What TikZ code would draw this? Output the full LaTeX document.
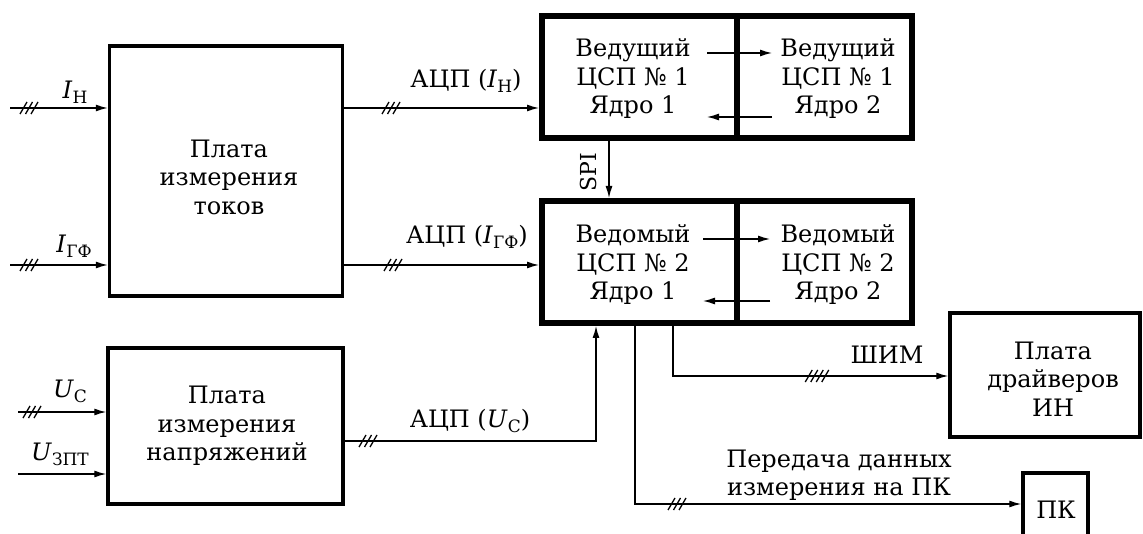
\documentclass[tikz,border=0pt]{standalone}
\usepackage{fontspec}
\setmainfont{DejaVu Serif}
\usetikzlibrary{arrows.meta}
\newcommand\sbs[1]{\raisebox{-0.4ex}{\fontsize{17}{17}\selectfont #1}}
\begin{document}
\begin{tikzpicture}[x=1pt,y=-1pt,
  txt/.style={font=\fontsize{24}{28.5}\selectfont, align=center, inner sep=0pt},
  blk/.style={draw, line width=3.5pt, inner sep=0pt},
  dsp/.style={draw, line width=6pt, inner sep=0pt, minimum height=122},
  con/.style={line width=1.3pt},
  arr/.style={con, -{Latex[length=12pt,width=7pt]}},
  pics/sl/.style={code={\foreach \k in {1,...,#1}{\draw[line width=1.3pt] ({(\k-1-(#1-1)/2)*5.5-3.5},6) -- ({(\k-1-(#1-1)/2)*5.5+3.5},-6);}}}]
\path[fill=white,use as bounding box] (0,0) rectangle (1143,534);

% blocks
\node[blk, minimum width=233, minimum height=250] (tok) at (226,171) {};
\node[txt] (tokt) at (229,177) {Плата\\измерения\\токов};
\node[blk, minimum width=235, minimum height=156] (nap) at (225.5,426) {};
\node[txt] (napt) at (227,426) {Плата\\измерения\\напряжений};

\node[dsp, minimum width=195] (m1) at (639.5,77) {};
\node[dsp, minimum width=175] (m2) at (824.5,77) {};
\node[dsp, minimum width=195] (s1) at (639.5,262) {};
\node[dsp, minimum width=175] (s2) at (824.5,262) {};
\node[txt] (m1t) at (633,79) {Ведущий\\ЦСП № 1\\Ядро 1};
\node[txt] (m2t) at (838,79) {Ведущий\\ЦСП № 1\\Ядро 2};
\node[txt] (s1t) at (633,265) {Ведомый\\ЦСП № 2\\Ядро 1};
\node[txt] (s2t) at (838,265) {Ведомый\\ЦСП № 2\\Ядро 2};

\node[blk, minimum width=190, minimum height=124] (drv) at (1045,375) {};
\node[txt] (drvt) at (1053,379) {Плата\\драйверов\\ИН};
\node[blk, minimum width=65, minimum height=80] (pc) at (1055.5,513) {};
\node[txt] (pct) at (1056,510) {ПК};

% core-to-core arrows
\coordinate (ma1) at (707,53);  \coordinate (ma2) at (772,53);
\coordinate (mb1) at (772,117); \coordinate (mb2) at (707,117);
\coordinate (sa1) at (703,239); \coordinate (sa2) at (770,239);
\coordinate (sb1) at (770,301); \coordinate (sb2) at (703,301);
\draw[arr] (ma1) -- (ma2);
\draw[arr] (mb1) -- (mb2);
\draw[arr] (sa1) -- (sa2);
\draw[arr] (sb1) -- (sb2);

% SPI
\coordinate (spix) at (609,0);
\draw[arr] (spix |- m1.south) -- (spix |- s1.north);
\node[txt, font=\fontsize{22}{24}\selectfont, rotate=90] (spi) at (588,172) {SPI};

% inputs
\coordinate (inH) at (10,108);
\coordinate (inG) at (10,265);
\coordinate (inUC) at (18,412);
\coordinate (inUZ) at (18,474);
\draw[arr] (inH) -- (inH -| tok.west);
\draw[arr] (inG) -- (inG -| tok.west);
\draw[arr] (inUC) -- (inUC -| nap.west);
\draw[arr] (inUZ) -- (inUZ -| nap.west);
\pic at (29,108) {sl=3};
\pic at (29,265) {sl=3};
\pic at (32,412) {sl=3};
\node[txt] (lH) at (75,92) {\textit{I}\sbs{Н}};
\node[txt] (lG) at (74,246) {\textit{I}\sbs{ГФ}};
\node[txt] (lUC) at (70,391) {\textit{U}\sbs{С}};
\node[txt] (lUZ) at (60,454) {\textit{U}\sbs{ЗПТ}};

% ADC outputs
\draw[arr] (inH -| tok.east) -- (inH -| m1.west);
\draw[arr] (inG -| tok.east) -- (inG -| s1.west);
\coordinate (uc) at (596,441);
\draw[arr] (uc -| nap.east) -- (uc) -- (uc |- s1.south);
\pic at (391,108) {sl=3};
\pic at (393,265) {sl=3};
\pic at (368,441) {sl=3};
\node[txt] (aH) at (466,81) {АЦП (\textit{I}\sbs{Н})};
\node[txt] (aG) at (467,237) {АЦП (\textit{I}\sbs{ГФ})};
\node[txt] (aU) at (470,421) {АЦП (\textit{U}\sbs{С})};

% PWM
\coordinate (pw) at (673,376);
\draw[arr] (pw |- s1.south) -- (pw) -- (pw -| drv.west);
\pic at (817,376) {sl=4};
\node[txt] (pwt) at (887,355) {ШИМ};

% data to PC
\coordinate (dt) at (635,504);
\draw[arr] (dt |- s1.south) -- (dt) -- (dt -| pc.west);
\pic at (677,504) {sl=3};
\node[txt] (dtt) at (839,475) {Передача данных\\измерения на ПК};
\end{tikzpicture}
\end{document}
